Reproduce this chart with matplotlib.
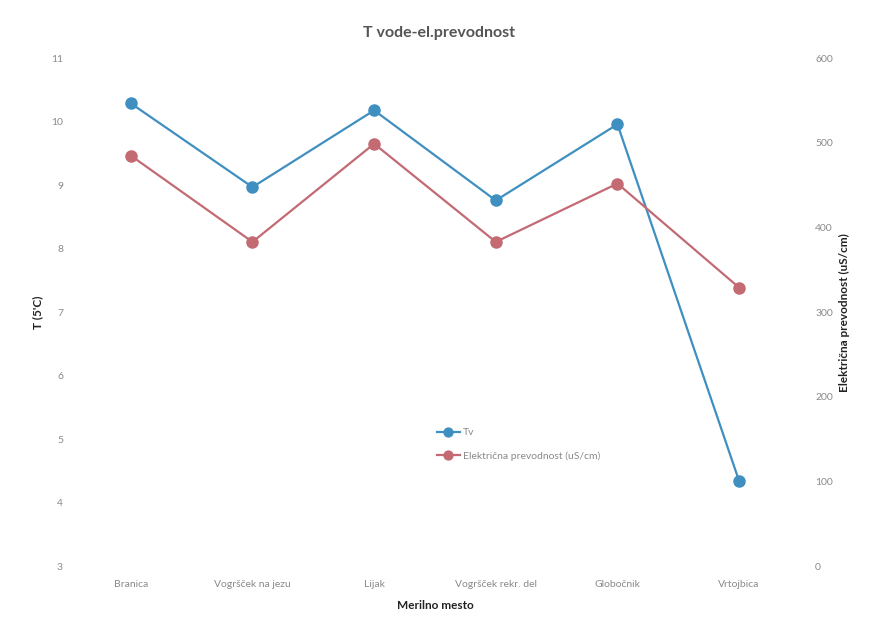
import matplotlib.pyplot as plt

plt.rcParams['font.family'] = ['Lato', 'DejaVu Sans']

sites = ['Branica', 'Vogršček na jezu', 'Lijak', 'Vogršček rekr. del', 'Globočnik', 'Vrtojbica']
temperature = [10.29, 8.97, 10.18, 8.76, 9.96, 4.34]
conductivity = [485, 383, 499, 383, 452, 329]

left_ticks = [3, 4, 5, 6, 7, 8, 9, 10, 11]
right_ticks = [0, 100, 200, 300, 400, 500, 600]

blue = '#3f8fc0'
red = '#c36a73'
tick_col = '#8a8a8a'

fig = plt.figure(figsize=(8.78, 6.2), dpi=100)
ax = fig.add_axes([0.0797, 0.087, 0.8314, 0.819])
ax2 = ax.twinx()

x = list(range(len(sites)))
l1, = ax.plot(x, temperature, color=blue, lw=1.6, marker='o', ms=8, label='Tv', zorder=3)
l2, = ax2.plot(x, conductivity, color=red, lw=1.6, marker='o', ms=8,
               label='Električna prevodnost (uS/cm)', zorder=3)

ax.set_xlim(-0.5, len(sites) - 0.5)
ax.set_ylim(3, 11)
ax2.set_ylim(0, 600)
ax.set_yticks(left_ticks)
ax2.set_yticks(right_ticks)
ax.set_xticks(x)
ax.set_xticklabels(sites)

for a in (ax, ax2):
    for s in a.spines.values():
        s.set_visible(False)
    a.tick_params(length=0, labelsize=7.5, colors=tick_col)
ax.tick_params(axis='y', pad=5)
ax.tick_params(axis='x', pad=10)
ax2.tick_params(axis='y', pad=11)

ax.set_xlabel('Merilno mesto', fontsize=8.5, fontweight='bold', color='#222222', labelpad=8)
ax.set_ylabel('T (5\'C)', fontsize=8.5, fontweight='bold', color='#222222', labelpad=6)
ax2.set_ylabel('Električna prevodnost (uS/cm)', fontsize=8.5, fontweight='bold',
               color='#222222', labelpad=4)

fig.text(0.5, 0.947, 'T vode-el.prevodnost', ha='center', va='center',
         fontsize=11.5, fontweight='bold', color='#555555')

leg = ax.legend(handles=[l1, l2], loc='upper left', bbox_to_anchor=(0.49, 0.29),
                frameon=False, fontsize=7.5, handlelength=2.2, labelspacing=1.3,
                handletextpad=0.3, markerscale=0.8)
for t in leg.get_texts():
    t.set_color(tick_col)

fig.savefig('out.png', dpi=100, facecolor='white')
